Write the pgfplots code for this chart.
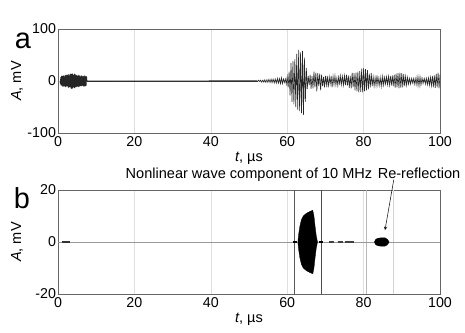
\documentclass[border=0pt]{standalone}
\usepackage{fontspec}
\setmainfont{Liberation Sans}
\usepackage{pgfplots}
\usepackage{pgfplotstable}
\pgfplotsset{compat=1.18}

\pgfplotstableread[row sep=\\]{
t y\\
0.5 0\\ 0.6 -6\\ 0.7 8\\ 0.8 -9\\ 0.9 10\\ 1.0 -9\\ 1.1 10\\ 1.2 -11\\ 1.3 10\\ 1.4 -11\\ 1.5 11\\ 1.6 -10\\ 1.7 9\\ 1.8 -11\\ 1.9 12\\
2.0 -12\\ 2.1 11\\ 2.2 -11\\ 2.3 12\\ 2.4 -10\\ 2.5 12\\ 2.6 -12\\ 2.7 13\\ 2.8 -13\\ 2.9 11\\ 3.0 -12\\ 3.1 13\\ 3.2 -12\\ 3.3 14\\ 3.4 -14\\
3.5 13\\ 3.6 -15\\ 3.7 15\\ 3.8 -14\\ 3.9 13\\ 4.0 -12\\ 4.1 12\\ 4.2 -13\\ 4.3 14\\ 4.4 -14\\ 4.5 13\\ 4.6 -12\\ 4.7 11\\ 4.8 -12\\ 4.9 12\\
5.0 -11\\ 5.1 10\\ 5.2 -11\\ 5.3 11\\ 5.4 -12\\ 5.5 12\\ 5.6 -11\\ 5.7 10\\ 5.8 -10\\ 5.9 9\\ 6.0 -10\\ 6.1 11\\ 6.2 -10\\ 6.3 10\\ 6.4 -9\\
6.5 9\\ 6.6 -10\\ 6.7 10\\ 6.8 -11\\ 6.9 11\\ 7.0 -10\\ 7.1 9\\ 7.2 -10\\ 7.3 10\\ 7.4 -9\\ 7.5 9\\ 7.6 0\\ 30 0.3\\ 52.0 0.5\\
52.25 -1\\ 52.50 1.5\\ 52.75 -1\\ 53.00 1.5\\ 53.25 -2\\ 53.50 1.5\\ 53.75 -2\\ 54.00 2\\ 54.25 -2.5\\
54.50 2\\ 54.75 -2.5\\ 55.00 3\\ 55.25 -2.5\\ 55.50 3\\ 55.75 -3\\ 56.00 3.5\\ 56.25 -3\\ 56.50 3.5\\
56.75 -4\\ 57.00 3.5\\ 57.25 -4\\ 57.50 5\\ 57.75 -4\\ 58.00 4.5\\ 58.25 -5\\ 58.50 6\\ 58.75 -5\\
59.00 4\\ 59.25 -3\\ 59.50 4\\ 59.75 -6\\ 60.00 8\\ 60.25 -12\\ 60.50 18\\ 60.75 -28\\ 61.00 35\\
61.25 -40\\ 61.50 38\\ 61.75 -45\\ 62.00 42\\ 62.25 -50\\ 62.50 52\\ 62.75 -55\\ 63.00 60\\ 63.25 -58\\
63.50 55\\ 63.75 -62\\ 64.00 58\\ 64.25 -65\\ 64.50 45\\ 64.75 -40\\ 65.00 25\\ 65.25 -15\\ 65.50 10\\
65.75 -8\\ 66.00 12\\ 66.25 -15\\ 66.50 10\\ 66.75 -14\\ 67.00 18\\ 67.25 -12\\ 67.50 16\\ 67.75 -20\\
68.00 15\\ 68.25 -10\\ 68.50 14\\ 68.75 -18\\ 69.00 12\\ 69.25 -10\\ 69.50 8\\ 69.75 -12\\ 70.00 10\\
70.25 -8\\ 70.50 10\\ 70.75 -12\\ 71.00 8\\ 71.25 -6\\ 71.50 10\\ 71.75 -12\\ 72.00 9\\ 72.25 -7\\
72.50 10\\ 72.75 -8\\ 73.00 6\\ 73.25 -9\\ 73.50 11\\ 73.75 -8\\ 74.00 10\\ 74.25 -7\\ 74.50 9\\
74.75 -8\\ 75.00 10\\ 75.25 -8\\ 75.50 12\\ 75.75 -9\\ 76.00 11\\ 76.25 -13\\ 76.50 10\\ 76.75 -14\\
77.00 16\\ 77.25 -12\\ 77.50 15\\ 77.75 -18\\ 78.00 16\\ 78.25 -20\\ 78.50 18\\ 78.75 -22\\ 79.00 19\\
79.25 -21\\ 79.50 24\\ 79.75 -22\\ 80.00 25\\ 80.25 -20\\ 80.50 23\\ 80.75 -18\\ 81.00 21\\ 81.25 -16\\
81.50 14\\ 81.75 -12\\ 82.00 15\\ 82.25 -10\\ 82.50 8\\ 82.75 -10\\ 83.00 7\\ 83.25 -9\\ 83.50 11\\
83.75 -8\\ 84.00 6\\ 84.25 -9\\ 84.50 7\\ 84.75 -10\\ 85.00 9\\ 85.25 -8\\ 85.50 7\\ 85.75 -6\\
86.00 8\\ 86.25 -7\\ 86.50 9\\ 86.75 -8\\ 87.00 10\\ 87.25 -9\\ 87.50 11\\ 87.75 -10\\ 88.00 12\\
88.25 -13\\ 88.50 14\\ 88.75 -12\\ 89.00 15\\ 89.25 -14\\ 89.50 16\\ 89.75 -13\\ 90.00 15\\ 90.25 -12\\
90.50 13\\ 90.75 -10\\ 91.00 9\\ 91.25 -8\\ 91.50 7\\ 91.75 -6\\ 92.00 5\\ 92.25 -6\\ 92.50 5\\
92.75 -4\\ 93.00 5\\ 93.25 -6\\ 93.50 5\\ 93.75 -7\\ 94.00 8\\ 94.25 -9\\ 94.50 8\\ 94.75 -9\\
95.00 7\\ 95.25 -6\\ 95.50 5\\ 95.75 -4\\ 96.00 5\\ 96.25 -6\\ 96.50 5\\ 96.75 -7\\ 97.00 6\\
97.25 -8\\ 97.50 7\\ 97.75 -9\\ 98.00 10\\ 98.25 -12\\ 98.50 11\\ 98.75 -13\\ 99.00 14\\ 99.25 -12\\
99.50 16\\ 99.75 -14\\ 100.00 12\\
}\rawsignal

\pgfplotstableread[row sep=\\]{
t y\\
62.8 0.3\\ 63.0 3\\ 63.3 6\\ 63.7 8.5\\ 64.2 10\\ 65.0 11\\ 66.0 11.8\\ 66.7 12.2\\ 67.0 10\\ 67.3 6\\ 67.6 2.5\\ 67.9 0.3\\
67.9 -0.3\\ 67.6 -2.5\\ 67.3 -6\\ 67.0 -10\\ 66.7 -12.2\\ 66.0 -11.8\\ 65.0 -11\\ 64.2 -10\\ 63.7 -8.5\\ 63.3 -6\\ 63.0 -3\\ 62.8 -0.3\\
}\mainburst

\pgfplotstableread[row sep=\\]{
t y\\
82.8 0\\ 83.1 0.9\\ 83.6 1.4\\ 84.5 1.6\\ 85.6 1.6\\ 86.2 1.1\\ 86.7 0\\
86.2 -1.1\\ 85.6 -1.6\\ 84.5 -1.6\\ 83.6 -1.4\\ 83.1 -0.9\\ 82.8 0\\
}\rereflection

\begin{document}
\begin{tikzpicture}[x=1bp,y=1bp]
\useasboundingbox (0,0) rectangle (465,332);
\pgfplotsset{
  every axis/.append style={
    scale only axis, width=382bp, height=104bp,
    xmin=0, xmax=100,
    xtick={0,20,40,60,80,100},
    xmajorgrids, ymajorgrids=false,
    major grid style={gray!25, line width=0.5pt},
    axis line style={gray!80!black, line width=0.5pt},
    major tick length=0pt,
    tick label style={font=\fontsize{14.3}{15}\selectfont},
    label style={font=\fontsize{14.6}{16}\selectfont},
    /pgf/number format/assume math mode=true,
    xticklabel style={yshift=-0.5bp},
    yticklabel style={xshift=1.5bp},
    xlabel={\textit{t}, µs},
    ylabel={\textit{A}, mV},
    xlabel style={at={(axis description cs:0.5,-0.27)}, anchor=base},
    ylabel style={at={(axis description cs:-0.107,0.5)}, anchor=center},
  }
}
% panel a
\begin{axis}[at={(58bp,199bp)}, anchor=south west,
  ymin=-100, ymax=100, ytick={-100,0,100}]
\addplot[black!80, line width=0.6pt] coordinates {(7.5,0) (52,0)};
\addplot[black!85, line width=0.6pt] table[x=t,y=y] {\rawsignal};
\node[anchor=base, font=\fontsize{14.6}{16}\selectfont] at (rel axis cs:0.5,1) [yshift=12bp] {Raw signal};
\end{axis}
% panel b
\begin{axis}[at={(58bp,38bp)}, anchor=south west,
  ymin=-20, ymax=20, ytick={-20,0,20}, clip=false]
\addplot[gray!55, line width=0.6pt] coordinates {(80.8,-20) (80.8,20)};
\addplot[gray!35, line width=0.7pt] coordinates {(87.7,-20) (87.7,20)};
\addplot[gray!70!black, line width=1.1pt] coordinates {(62,-20) (62,20)};
\addplot[gray!60!black, line width=0.6pt] coordinates {(69,-20) (69,20)};
\addplot[gray!80, line width=0.7pt] coordinates {(0,0) (100,0)};
\addplot[black!80, line width=1.2pt] coordinates {(1,0) (3.2,0)};
\addplot[black, line width=1.6pt] coordinates {(61.6,0) (62.6,0)};
\addplot[black, line width=2.2pt] coordinates {(68.3,0) (69.3,0)};
\addplot[black!75, line width=1.1pt] coordinates {(71,0) (72.3,0)};
\addplot[black!75, line width=1.1pt] coordinates {(73.2,0) (74.6,0)};
\addplot[black!75, line width=1.3pt] coordinates {(75,0) (77.4,0)};
\addplot[fill=black, draw=black, line width=0.3pt] table[x=t,y=y] {\mainburst} -- cycle;
\addplot[fill=black, draw=black, line width=0.3pt] table[x=t,y=y] {\rereflection} -- cycle;
\addplot[-stealth, black, line width=0.5pt] coordinates {(87.9,24.0) (85.6,4.6)};
\node[anchor=base, font=\fontsize{14.6}{16}\selectfont] at (rel axis cs:0.5,1) [yshift=12bp] {Nonlinear wave component of 10 MHz};
\node[anchor=base, font=\fontsize{14.6}{16}\selectfont] at (axis cs:94.5,20) [yshift=12bp] {Re-reflection};
\end{axis}
\node[anchor=base, font=\fontsize{29}{30}\selectfont] at (23,284) {a};
\node[anchor=base, font=\fontsize{29}{30}\selectfont] at (22,124) {b};
\end{tikzpicture}
\end{document}
